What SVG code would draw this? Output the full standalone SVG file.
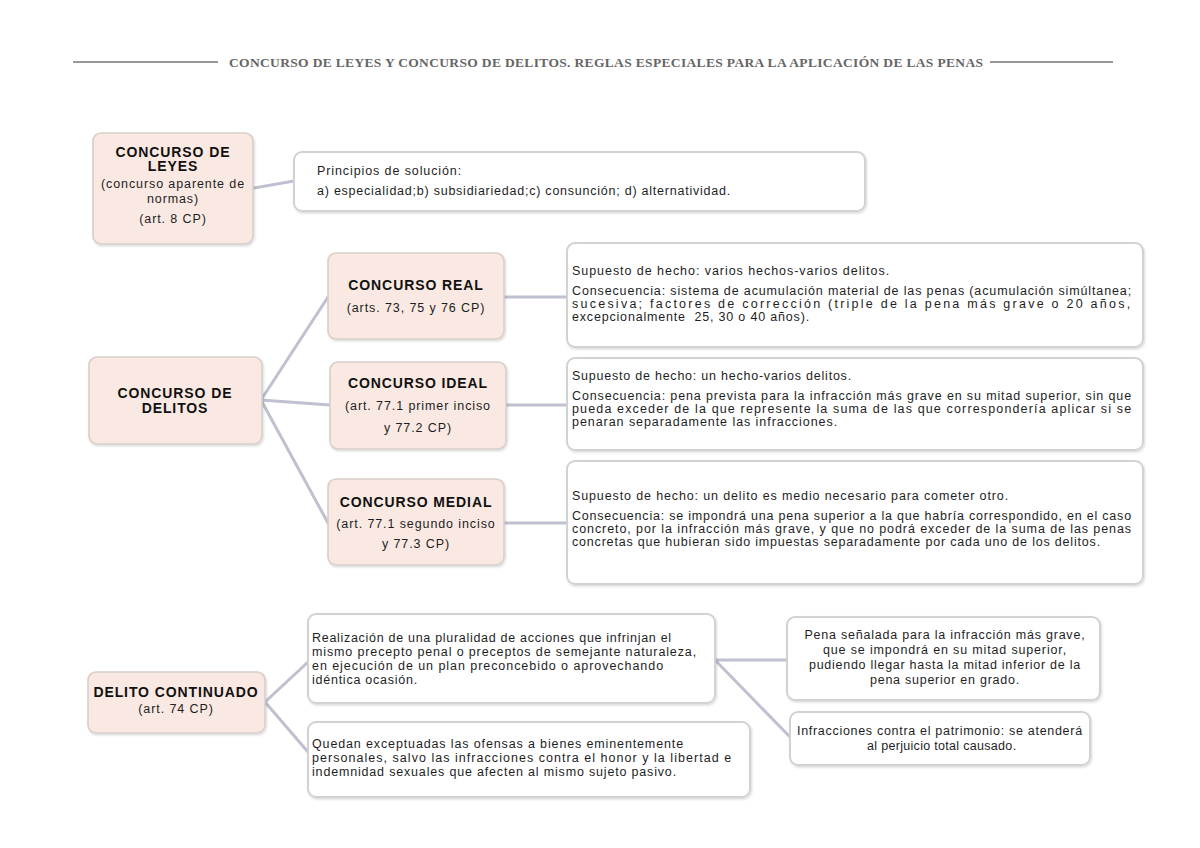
<svg xmlns="http://www.w3.org/2000/svg" width="1200" height="848" viewBox="0 0 1200 848">
<style>
.pk{fill:#f9e9e2;stroke:#d8cfcb;stroke-width:1.6}
.wb{fill:#ffffff;stroke:#d2d2d2;stroke-width:2}
.b{font-family:"Liberation Sans",Arial,sans-serif;font-weight:bold;font-size:14px;fill:#111;letter-spacing:0.9px;text-anchor:middle}
.n{font-family:"Liberation Sans",Arial,sans-serif;font-size:12.5px;fill:#1e1e1e;letter-spacing:0.9px}
.c{text-anchor:middle}
.hd{font-family:"Liberation Serif","Times New Roman",serif;font-weight:bold;font-size:13.5px;fill:#666}
.cn{fill:none;stroke:#bfc0d0;stroke-width:3;stroke-linecap:round;stroke-linejoin:round}
</style>
<defs>
<filter id="sh" x="-5%" y="-10%" width="110%" height="125%">
<feDropShadow dx="1" dy="1.5" stdDeviation="0.8" flood-color="#000" flood-opacity="0.15"/>
</filter>
</defs>
<rect width="1200" height="848" fill="#ffffff"/>

<g id="header">
<line x1="73" y1="62" x2="218" y2="62" stroke="#777" stroke-width="1.5"/>
<line x1="990" y1="62" x2="1113" y2="62" stroke="#777" stroke-width="1.5"/>
<text class="hd" x="229" y="66.5" textLength="754" lengthAdjust="spacing">CONCURSO DE LEYES Y CONCURSO DE DELITOS. REGLAS ESPECIALES PARA LA APLICACIÓN DE LAS PENAS</text>
</g>

<g id="connectors">
<path class="cn" d="M254 188 L294 181"/>
<path class="cn" d="M261 400 L328 297 M261 400 L330 405 M261 400 L328 523"/>
<path class="cn" d="M504 297 L567 297"/>
<path class="cn" d="M506 405 L567 405"/>
<path class="cn" d="M504 523 L567 523"/>
<path class="cn" d="M265 702 L308 662 M265 702 L308 752"/>
<path class="cn" d="M715 660 L787 660 M715 660 L790 737"/>
</g>

<g id="concurso-leyes">
<rect class="pk" x="93" y="133" width="160" height="111" rx="8" filter="url(#sh)"/>
<text class="b" x="173" y="157">CONCURSO DE</text>
<text class="b" x="173" y="171">LEYES</text>
<text class="n c" x="173" y="188">(concurso aparente de</text>
<text class="n c" x="173" y="203">normas)</text>
<text class="n c" x="173" y="223">(art. 8 CP)</text>
</g>

<g id="principios">
<rect class="wb" x="294" y="152" width="571" height="59" rx="8" filter="url(#sh)"/>
<text class="n" x="317" y="175">Principios de solución:</text>
<text class="n" x="317" y="195" textLength="414" lengthAdjust="spacing">a) especialidad;b) subsidiariedad;c) consunción; d) alternatividad.</text>
</g>

<g id="concurso-delitos">
<rect class="pk" x="89" y="357" width="173" height="87" rx="8" filter="url(#sh)"/>
<text class="b" x="175" y="398">CONCURSO DE</text>
<text class="b" x="175" y="413">DELITOS</text>
</g>

<g id="concurso-real">
<rect class="pk" x="328" y="253" width="176" height="86" rx="8" filter="url(#sh)"/>
<text class="b" x="416" y="290">CONCURSO REAL</text>
<text class="n c" x="416" y="312">(arts. 73, 75 y 76 CP)</text>
</g>

<g id="concurso-ideal">
<rect class="pk" x="330" y="362" width="176" height="87" rx="8" filter="url(#sh)"/>
<text class="b" x="418" y="388">CONCURSO IDEAL</text>
<text class="n c" x="418" y="410">(art. 77.1 primer inciso</text>
<text class="n c" x="418" y="432">y 77.2 CP)</text>
</g>

<g id="concurso-medial">
<rect class="pk" x="328" y="479" width="176" height="86" rx="8" filter="url(#sh)"/>
<text class="b" x="416" y="507">CONCURSO MEDIAL</text>
<text class="n c" x="416" y="528">(art. 77.1 segundo inciso</text>
<text class="n c" x="416" y="548">y 77.3 CP)</text>
</g>

<g id="real-detalle">
<rect class="wb" x="567" y="243" width="576" height="104" rx="8" filter="url(#sh)"/>
<text class="n" x="572" y="275" textLength="318" lengthAdjust="spacing">Supuesto de hecho: varios hechos-varios delitos.</text>
<text class="n" x="572" y="295" textLength="560" lengthAdjust="spacing">Consecuencia: sistema de acumulación material de las penas (acumulación simúltanea;</text>
<text class="n" x="572" y="308" textLength="559" lengthAdjust="spacing">sucesiva; factores de corrección (triple de la pena más grave o 20 años,</text>
<text class="n" x="572" y="321" textLength="238" lengthAdjust="spacing" xml:space="preserve">excepcionalmente  25, 30 o 40 años).</text>
</g>

<g id="ideal-detalle">
<rect class="wb" x="567" y="358" width="576" height="92" rx="8" filter="url(#sh)"/>
<text class="n" x="572" y="380" textLength="280" lengthAdjust="spacing">Supuesto de hecho: un hecho-varios delitos.</text>
<text class="n" x="572" y="400" textLength="560" lengthAdjust="spacing">Consecuencia: pena prevista para la infracción más grave en su mitad superior, sin que</text>
<text class="n" x="572" y="413" textLength="560" lengthAdjust="spacing">pueda exceder de la que represente la suma de las que correspondería aplicar si se</text>
<text class="n" x="572" y="426" textLength="266" lengthAdjust="spacing">penaran separadamente las infracciones.</text>
</g>

<g id="medial-detalle">
<rect class="wb" x="567" y="461" width="576" height="123" rx="8" filter="url(#sh)"/>
<text class="n" x="572" y="500" textLength="437" lengthAdjust="spacing">Supuesto de hecho: un delito es medio necesario para cometer otro.</text>
<text class="n" x="572" y="520" textLength="560" lengthAdjust="spacing">Consecuencia: se impondrá una pena superior a la que habría correspondido, en el caso</text>
<text class="n" x="572" y="533" textLength="560" lengthAdjust="spacing">concreto, por la infracción más grave, y que no podrá exceder de la suma de las penas</text>
<text class="n" x="572" y="546" textLength="529" lengthAdjust="spacing">concretas que hubieran sido impuestas separadamente por cada uno de los delitos.</text>
</g>

<g id="delito-continuado">
<rect class="pk" x="88" y="672" width="177" height="61" rx="8" filter="url(#sh)"/>
<text class="b" x="176" y="697">DELITO CONTINUADO</text>
<text class="n c" x="176" y="713">(art. 74 CP)</text>
</g>

<g id="realizacion">
<rect class="wb" x="308" y="614" width="407" height="89" rx="8" filter="url(#sh)"/>
<text class="n" x="312" y="642" textLength="360" lengthAdjust="spacing">Realización de una pluralidad de acciones que infrinjan el</text>
<text class="n" x="312" y="656" textLength="385" lengthAdjust="spacing">mismo precepto penal o preceptos de semejante naturaleza,</text>
<text class="n" x="312" y="670" textLength="352" lengthAdjust="spacing">en ejecución de un plan preconcebido o aprovechando</text>
<text class="n" x="312" y="684" textLength="106" lengthAdjust="spacing">idéntica ocasión.</text>
</g>

<g id="quedan">
<rect class="wb" x="308" y="722" width="442" height="75" rx="8" filter="url(#sh)"/>
<text class="n" x="312" y="748" textLength="372" lengthAdjust="spacing">Quedan exceptuadas las ofensas a bienes eminentemente</text>
<text class="n" x="312" y="762" textLength="420" lengthAdjust="spacing">personales, salvo las infracciones contra el honor y la libertad e</text>
<text class="n" x="312" y="776" textLength="365" lengthAdjust="spacing">indemnidad sexuales que afecten al mismo sujeto pasivo.</text>
</g>

<g id="pena">
<rect class="wb" x="787" y="617" width="313" height="83" rx="8" filter="url(#sh)"/>
<text class="n c" x="945" y="639" textLength="281" lengthAdjust="spacing">Pena señalada para la infracción más grave,</text>
<text class="n c" x="945" y="654" textLength="244" lengthAdjust="spacing">que se impondrá en su mitad superior,</text>
<text class="n c" x="945" y="669" textLength="272" lengthAdjust="spacing">pudiendo llegar hasta la mitad inferior de la</text>
<text class="n c" x="945" y="684" textLength="150" lengthAdjust="spacing">pena superior en grado.</text>
</g>

<g id="patrimonio">
<rect class="wb" x="790" y="712" width="300" height="53" rx="8" filter="url(#sh)"/>
<text class="n c" x="940" y="735" textLength="286" lengthAdjust="spacing">Infracciones contra el patrimonio: se atenderá</text>
<text class="n c" x="942" y="750" textLength="150" lengthAdjust="spacing">al perjuicio total causado.</text>
</g>
</svg>
